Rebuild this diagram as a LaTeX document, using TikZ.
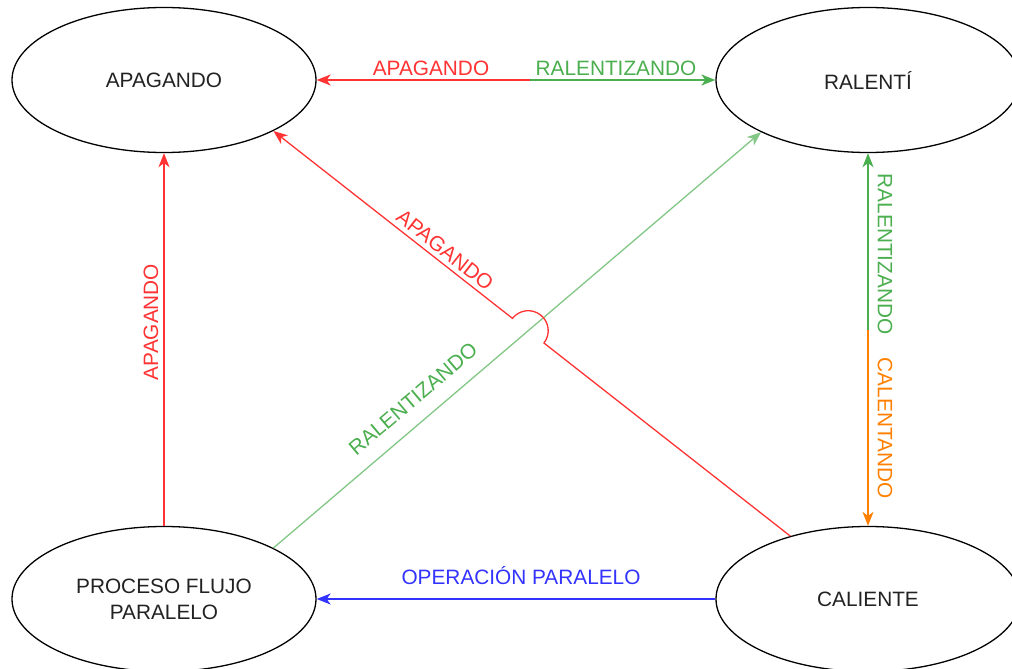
\documentclass[tikz,border=0pt]{standalone}
\usepackage{fontspec}
\setmainfont{Liberation Sans}
\usetikzlibrary{arrows.meta,shapes.geometric,calc,intersections}
\definecolor{cred}{HTML}{FF3333}
\definecolor{cgreen}{HTML}{4BAE4F}
\definecolor{clgreen}{HTML}{82C785}
\definecolor{cblue}{HTML}{3333FF}
\definecolor{corange}{HTML}{FF8000}
\definecolor{ctext}{HTML}{222222}
\begin{document}
\begin{tikzpicture}[x=1pt,y=1pt,
  state/.style={draw=black,line width=1.3pt,ellipse,minimum width=304pt,minimum height=145pt,inner sep=0pt,text=ctext,align=center,font=\fontsize{20.8}{26}\selectfont},
  conn/.style={line width=1.3pt,-{Stealth[length=14pt,width=11pt,inset=4pt]}},
  lbl/.style={inner sep=0pt,font=\fontsize{20.8}{26}\selectfont}]
\useasboundingbox (0,0) rectangle (1012,-669);
\node[state] (apa) at (164,-80) {APAGANDO};
\node[state] (ral) at (868,-80) {RALENTÍ};
\node[state] (pro) at (164,-599) {PROCESO FLUJO\\PARALELO};
\node[state] (cal) at (868,-599) {CALIENTE};
% top bidirectional
\coordinate (m1) at (530,-80);
\draw[conn,cred] (m1) -- (apa.east);
\draw[conn,cgreen] (m1) -- (ral.west);
% left vertical
\draw[conn,cred] (pro.north) -- (apa.south);
% right vertical
\coordinate (m2) at (868,-330);
\draw[conn,cgreen] (m2) -- (ral.south);
\draw[conn,corange] (m2) -- (cal.north);
% bottom
\draw[conn,cblue] (cal.west) -- (pro.east);
% green diagonal
\coordinate (gA) at (pro.25.7);
\coordinate (gB) at (ral.206.3);
\draw[conn,clgreen,name path=gline] (gA) -- (gB);
% red diagonal with jump
\coordinate (rA) at (cal.141.5);
\coordinate (rB) at (apa.-25.5);
\path[name path=rline] (rA) -- (rB);
\path[name intersections={of=gline and rline,by=crs}];
\coordinate (j1) at ($(crs)!20pt!(rA)$);
\draw[conn,cred] let \p1=($(rA)-(crs)$), \n1={atan2(\y1,\x1)} in
  (rA) -- (j1) arc[start angle=\n1, delta angle=180, radius=20pt] -- (rB);
% labels
\node[lbl,text=cred] (l1) at (431,-68) {APAGANDO};
\node[lbl,text=cgreen] (l2) at (616,-68) {RALENTIZANDO};
\node[lbl,text=cred,rotate=90] (l3) at (151,-322) {APAGANDO};
\node[lbl,text=cred,rotate=-38.2] (l4) at (445,-250) {APAGANDO};
\node[lbl,text=cgreen,rotate=40.3] (l5) at (413,-399) {RALENTIZANDO};
\node[lbl,text=cgreen,rotate=-90] (l6) at (885,-254) {RALENTIZANDO};
\node[lbl,text=corange,rotate=-90] (l7) at (885,-428) {CALENTANDO};
\node[lbl,text=cblue] (l8) at (521,-576) {OPERACIÓN PARALELO};
\end{tikzpicture}
\end{document}
